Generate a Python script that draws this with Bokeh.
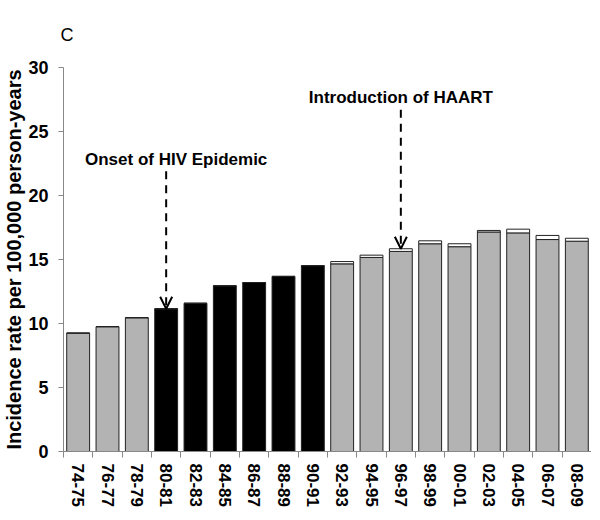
from bokeh.plotting import figure
from bokeh.models import FixedTicker, Arrow, OpenHead, Label, Range1d, ColumnDataSource
from bokeh.embed import file_html
from bokeh.resources import INLINE

# ---- data ----
periods = ["74-75", "76-77", "78-79", "80-81", "82-83", "84-85", "86-87", "88-89", "90-91",
           "92-93", "94-95", "96-97", "98-99", "00-01", "02-03", "04-05", "06-07", "08-09"]
base_rate = [9.25, 9.75, 10.45, 11.15, 11.58, 12.95, 13.2, 13.68, 14.52,
             14.66, 15.16, 15.63, 16.23, 16.0, 17.15, 17.08, 16.56, 16.43]
extra_rate = [0, 0, 0, 0, 0, 0, 0, 0, 0,
              0.18, 0.18, 0.21, 0.23, 0.23, 0.12, 0.29, 0.32, 0.23]
epidemic_periods = ["80-81", "82-83", "84-85", "86-87", "88-89", "90-91"]
y_ticks = [0, 5, 10, 15, 20, 25, 30]

FONT = "Liberation Sans"
idx = list(range(len(periods)))
total = [b + e for b, e in zip(base_rate, extra_rate)]
colors = ["#000000" if c in epidemic_periods else "#b3b3b3" for c in periods]

src = ColumnDataSource(dict(x=idx, base=base_rate, top=total, color=colors))

p = figure(frame_width=528, frame_height=384, output_backend="svg", toolbar_location=None,
           x_range=Range1d(-0.5, len(periods) - 0.5), y_range=Range1d(0, y_ticks[-1]),
           min_border_left=55, min_border_right=0, min_border_top=0, min_border_bottom=0)

p.title.text = "C"
p.title.text_font = FONT
p.title.text_font_style = "normal"
p.title.text_font_size = "18px"
p.title.text_color = "black"
p.title.align = "left"
p.title.offset = -3
p.title.standoff = 45

p.vbar(x="x", top="base", bottom=0, width=0.78, fill_color="color",
       line_color="#222222", line_width=1, source=src)
p.vbar(x="x", top="top", bottom="base", width=0.78, fill_color="white",
       line_color="#222222", line_width=1, source=src)

p.xgrid.visible = False
p.ygrid.visible = False
p.outline_line_color = None
p.background_fill_color = "white"

# y axis
p.yaxis.ticker = FixedTicker(ticks=y_ticks)
p.yaxis.axis_label = "Incidence rate per 100,000 person-years"
p.yaxis.axis_label_text_font = FONT
p.yaxis.axis_label_text_font_style = "bold"
p.yaxis.axis_label_text_font_size = "20px"
p.yaxis.axis_label_text_color = "black"
p.yaxis.axis_label_standoff = 0
p.yaxis.major_label_text_font = FONT
p.yaxis.major_label_text_font_style = "bold"
p.yaxis.major_label_text_font_size = "18px"
p.yaxis.major_label_text_color = "black"
p.yaxis.major_label_standoff = 10
p.yaxis.axis_line_color = "#888888"
p.yaxis.major_tick_line_color = "#888888"
p.yaxis.major_tick_out = 5
p.yaxis.major_tick_in = 0
p.yaxis.minor_tick_line_color = None

# x axis
p.xaxis.ticker = FixedTicker(ticks=idx, minor_ticks=[i - 0.5 for i in range(len(periods) + 1)])
p.xaxis.major_label_overrides = {i: c for i, c in enumerate(periods)}
p.xaxis.major_label_orientation = "vertical"
p.xaxis.major_label_text_font = FONT
p.xaxis.major_label_text_font_style = "bold"
p.xaxis.major_label_text_font_size = "17px"
p.xaxis.major_label_text_color = "black"
p.xaxis.major_label_standoff = 6
p.xaxis.axis_line_color = "#888888"
p.xaxis.major_tick_line_color = None
p.xaxis.major_tick_out = 0
p.xaxis.major_tick_in = 0
p.xaxis.minor_tick_line_color = "#888888"
p.xaxis.minor_tick_out = 6
p.xaxis.minor_tick_in = 0

# annotations
onset_i = periods.index("80-81")
haart_i = periods.index("96-97")

p.add_layout(Arrow(x_start=onset_i, y_start=21.9, x_end=onset_i, y_end=total[onset_i],
                   line_width=2, line_dash="8 6", line_color="black",
                   end=OpenHead(size=12, line_width=2, line_color="black")))
p.add_layout(Arrow(x_start=haart_i, y_start=26.7, x_end=haart_i, y_end=total[haart_i],
                   line_width=2, line_dash="8 6", line_color="black",
                   end=OpenHead(size=12, line_width=2, line_color="black")))

p.add_layout(Label(x=onset_i, y=22.8, x_offset=10, text="Onset of HIV Epidemic",
                   text_align="center", text_baseline="alphabetic", text_color="black",
                   text_font=FONT, text_font_style="bold", text_font_size="17px"))
p.add_layout(Label(x=haart_i, y=27.65, text="Introduction of HAART",
                   text_align="center", text_baseline="alphabetic", text_color="black",
                   text_font=FONT, text_font_style="bold", text_font_size="17px"))

open("out.html", "w").write(file_html(p, INLINE))
